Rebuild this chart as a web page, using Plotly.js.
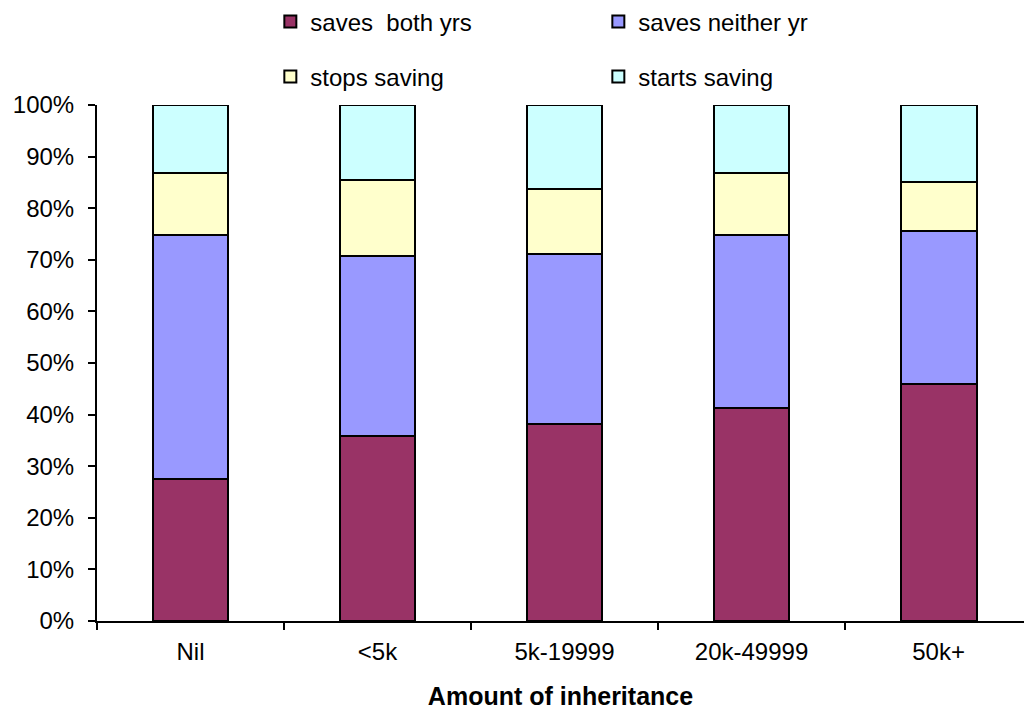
<!DOCTYPE html>
<html>
<head>
<meta charset="utf-8">
<script src="https://cdn.plot.ly/plotly-3.0.1.min.js"></script>
<style>
  html, body { margin: 0; padding: 0; background: #fff; }
  #chart { width: 1024px; height: 716px; }
</style>
</head>
<body>
<div id="chart"></div>
<script>
// Inheritance bands on the x axis
const categories = ["Nil", "<5k", "5k-19999", "20k-49999", "50k+"];

// Share of households in each saving pattern (percent, stacks to 100)
const savesBothYrs   = [27.5, 35.8, 38.1, 41.3, 45.9];
const savesNeitherYr = [47.4, 35.0, 33.0, 33.5, 29.6];
const stopsSaving    = [12.0, 14.7, 12.6, 12.0,  9.5];
const startsSaving   = [13.1, 14.5, 16.3, 13.2, 15.0];

const yTickVals = [0, 10, 20, 30, 40, 50, 60, 70, 80, 90, 100];

const FONT = "Liberation Sans, Arial, sans-serif";
const outline = { color: "#000000", width: 2 };

function series(name, values, color, legendId) {
  return {
    type: "bar",
    name: name,
    x: categories,
    y: values,
    marker: { color: color, line: outline },
    legend: legendId,
    hoverinfo: "x+y+name"
  };
}

const data = [
  series("saves  both yrs", savesBothYrs, "#993366", "legend"),
  series("saves neither yr", savesNeitherYr, "#9999FF", "legend"),
  series("stops saving", stopsSaving, "#FFFFCC", "legend2"),
  series("starts saving", startsSaving, "#CCFFFF", "legend2")
];

const legendBase = {
  orientation: "h",
  xref: "container",
  yref: "container",
  x: 0.264,
  xanchor: "left",
  yanchor: "middle",
  entrywidth: 283,
  entrywidthmode: "pixels",
  traceorder: "normal",
  font: { family: FONT, size: 24, color: "#000" },
  bgcolor: "rgba(0,0,0,0)",
  borderwidth: 0,
  itemclick: false,
  itemdoubleclick: false
};

const layout = {
  width: 1024,
  height: 716,
  paper_bgcolor: "#ffffff",
  plot_bgcolor: "#ffffff",
  margin: { l: 97, r: 0, t: 105, b: 95 },
  barmode: "stack",
  bargap: 0.594,
  showlegend: true,
  legend: Object.assign({}, legendBase, { y: 1 - 22 / 716 }),
  legend2: Object.assign({}, legendBase, { y: 1 - 77 / 716 }),
  font: { family: FONT, size: 24, color: "#000" },
  xaxis: {
    type: "category",
    range: [-0.5, 4.457],
    tickson: "boundaries",
    ticks: "outside",
    ticklen: 7,
    tickwidth: 2,
    tickcolor: "#000",
    showline: true,
    linecolor: "#000",
    linewidth: 2,
    showgrid: false,
    zeroline: false,
    automargin: false,
    ticklabelstandoff: 8,
    tickfont: { family: FONT, size: 24, color: "#000" },
    title: {
      text: "<b>Amount of inheritance</b>",
      font: { family: FONT, size: 25, color: "#000" },
      standoff: 24
    }
  },
  yaxis: {
    range: [0, 100],
    tickvals: yTickVals,
    ticktext: yTickVals.map(v => v + "%"),
    ticks: "outside",
    ticklen: 7,
    tickwidth: 2,
    tickcolor: "#000",
    showline: true,
    linecolor: "#000",
    linewidth: 2,
    showgrid: false,
    zeroline: false,
    automargin: false,
    ticklabelstandoff: 9,
    tickfont: { family: FONT, size: 24, color: "#000" }
  }
};

Plotly.newPlot("chart", data, layout, { displayModeBar: false, staticPlot: false });
</script>
</body>
</html>
